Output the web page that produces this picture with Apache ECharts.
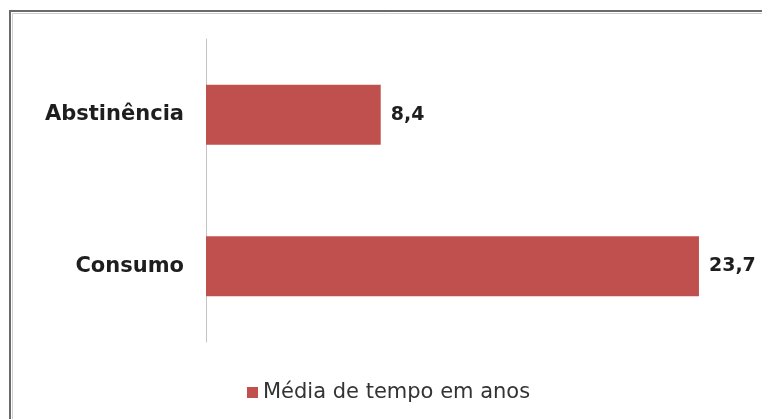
<!DOCTYPE html>
<html>
<head>
<meta charset="utf-8">
<script src="https://cdn.jsdelivr.net/npm/echarts@6/dist/echarts.min.js"></script>
<style>
  html, body { margin: 0; padding: 0; background: #ffffff; }
  #chart { width: 762px; height: 419px; }
</style>
</head>
<body>
<div id="chart"></div>
<script>
// Categories (top to bottom) and average duration in years
const categories = ['Abstinência', 'Consumo'];
const mediaTempo = [8.4, 23.7];
const seriesName = 'Média de tempo em anos';

const chart = echarts.init(document.getElementById('chart'), null, { renderer: 'canvas' });

chart.setOption({
  animation: false,
  backgroundColor: '#ffffff',
  graphic: [
    // frame around the chart area (open to the right and bottom)
    {
      type: 'rect', silent: true, z: 100,
      shape: { x: 10, y: 11, width: 820, height: 500 },
      style: { fill: 'none', stroke: '#6a6a6a', lineWidth: 2 }
    },
    {
      type: 'rect', silent: true, z: 100,
      shape: { x: 12.5, y: 13.5, width: 820, height: 500 },
      style: { fill: 'none', stroke: '#cfcfcf', lineWidth: 1 }
    }
  ],
  grid: { left: 206, right: 36, top: 39, bottom: 77, containLabel: false },
  legend: {
    data: [seriesName],
    left: 242, top: 377,
    icon: 'rect', itemWidth: 11, itemHeight: 11, itemGap: 8,
    textStyle: { fontFamily: 'DejaVu Sans', fontSize: 21, color: '#333333' }
  },
  xAxis: {
    type: 'value', min: 0, max: 25,
    show: false
  },
  yAxis: {
    type: 'category',
    data: categories,
    inverse: true,
    axisLine: { show: true, lineStyle: { color: '#c4c4c4', width: 1 } },
    axisTick: { show: false },
    axisLabel: {
      margin: 22,
      fontFamily: 'DejaVu Sans', fontWeight: 'bold', fontSize: 21, color: '#1e1e1e'
    }
  },
  series: [{
    name: seriesName,
    type: 'bar',
    data: mediaTempo,
    barWidth: 60,
    itemStyle: { color: '#C0504D' },
    label: {
      show: true, position: 'right', distance: 10,
      fontFamily: 'DejaVu Sans', fontWeight: 'bold', fontSize: 19, color: '#1e1e1e',
      formatter: p => String(p.value).replace('.', ',')
    }
  }]
});
</script>
</body>
</html>
